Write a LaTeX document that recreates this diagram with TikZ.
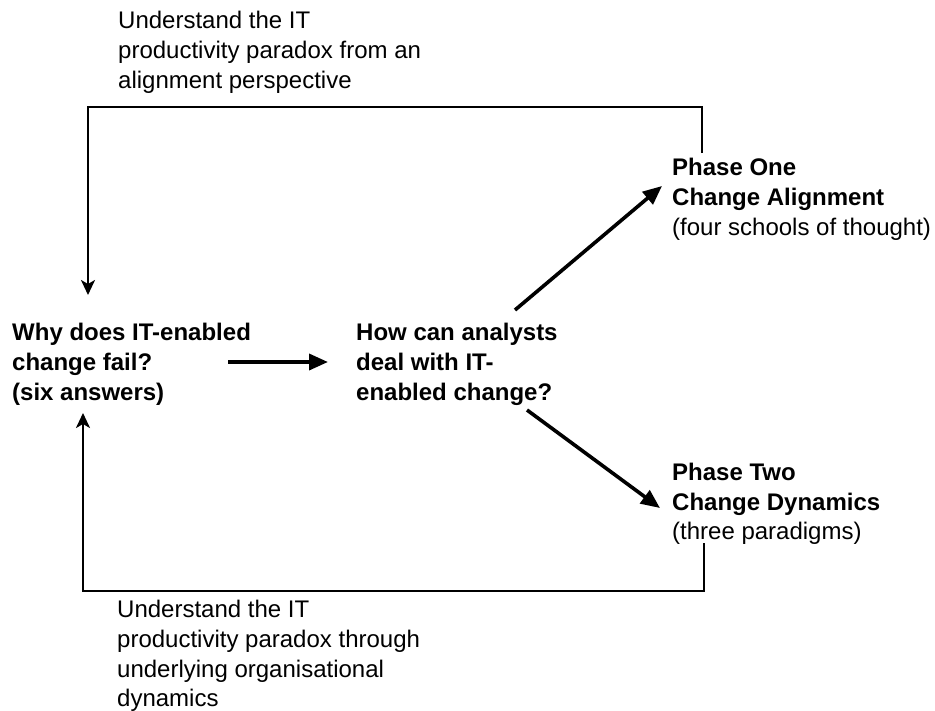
\documentclass[tikz,border=0pt]{standalone}
\usepackage{fontspec}
\setmainfont{Liberation Sans}
\usetikzlibrary{arrows.meta,calc}
% invisible rule that fixes the height of a block's first line
\newcommand\firstln{\rule{0pt}{30pt}}
\begin{document}
\begin{tikzpicture}[x=1pt,y=-1pt,
  txt/.style={anchor=north west, inner sep=0pt, align=left,
              font=\fontsize{24}{29.6}\selectfont},
  hd/.style={txt, font=\fontsize{24}{29.6}\selectfont\bfseries},
  loopline/.style={line width=2.4pt, line join=miter,
                   -{Stealth[length=15pt,width=14pt,inset=4pt]}},
  flow/.style={line width=3.6pt, -{Triangle[length=19pt,width=16pt]}},
  ]
\useasboundingbox (0,0) rectangle (935,710);

% text blocks
\node[txt] (ltop) at (118,-1.4) {\firstln Understand the IT\\productivity paradox from an\\alignment perspective};
\node[hd]  (why)  at (12,310.6) {\firstln Why does IT-enabled\\change fail?\\(six answers)};
\node[hd]  (how)  at (356,310.6) {\firstln How can analysts\\deal with IT-\\enabled change?};
\node[txt] (p1)   at (672,145.6) {\firstln\textbf{Phase One}\\\textbf{Change Alignment}\\(four schools of thought)};
\node[txt] (p2)   at (672,450.5) {\firstln\textbf{Phase Two}\\\textbf{Change Dynamics}\\(three paradigms)};
\node[txt] (lbot) at (117,587.6) {\firstln Understand the IT\\productivity paradox through\\underlying organisational\\dynamics};

% connector ends
\coordinate (p1foot)  at (702,153);
\coordinate (whyhead) at (88,295);
\coordinate (p2foot)  at (704,543);
\coordinate (whytail) at (83,413);
\coordinate (whyout)  at (228,362);
\coordinate (howin)   at (328,362);
\coordinate (howup)   at (515,310);
\coordinate (p1in)    at (662,186);
\coordinate (howdown) at (527,410);
\coordinate (p2in)    at (660,508);

% feedback loops
\draw[loopline] (p1foot) -- ++(0,-46) -| (whyhead);
\draw[loopline] (p2foot) -- ++(0,48) -| (whytail);

% main flow
\draw[flow] (whyout) -- (howin);
\draw[flow] (howup) -- (p1in);
\draw[flow] (howdown) -- (p2in);
\end{tikzpicture}
\end{document}
